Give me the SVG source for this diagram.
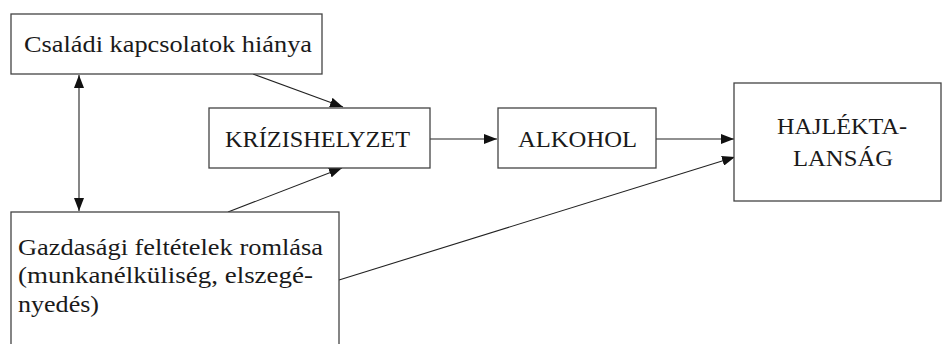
<svg xmlns="http://www.w3.org/2000/svg" width="942" height="344" viewBox="0 0 942 344">
<style>
.box{fill:#fff;stroke:#444;stroke-width:1.3}
.t{font-family:"Liberation Serif","DejaVu Serif",serif;font-size:23px;fill:#1a1a1a}
.c{stroke:#222;stroke-width:1.1;fill:none}
</style>
<defs>
<marker id="ah" viewBox="0 0 13 10" refX="13" refY="5" markerWidth="13" markerHeight="10" markerUnits="userSpaceOnUse" orient="auto-start-reverse">
<path d="M0,0 L13,5 L0,10 Z" fill="#111"/>
</marker>
</defs>
<rect width="942" height="344" fill="#fff"/>
<g id="connectors">
<line class="c" x1="79" y1="75" x2="79" y2="211" marker-start="url(#ah)" marker-end="url(#ah)"/>
<line class="c" x1="253" y1="74" x2="343" y2="107" marker-end="url(#ah)"/>
<line class="c" x1="228" y1="212" x2="342" y2="168" marker-end="url(#ah)"/>
<line class="c" x1="430" y1="139" x2="497" y2="139" marker-end="url(#ah)"/>
<line class="c" x1="656" y1="139" x2="734" y2="139" marker-end="url(#ah)"/>
<line class="c" x1="339" y1="280" x2="735" y2="157" marker-end="url(#ah)"/>
</g>
<g id="csaladi">
<rect class="box" x="11" y="14" width="311" height="60"/>
<text class="t" x="24" y="52" textLength="288" lengthAdjust="spacingAndGlyphs">Családi kapcsolatok hiánya</text>
</g>
<g id="krizis">
<rect class="box" x="209" y="108" width="221" height="60"/>
<text class="t" x="225" y="147" textLength="185" lengthAdjust="spacingAndGlyphs">KRÍZISHELYZET</text>
</g>
<g id="alkohol">
<rect class="box" x="498" y="108" width="158" height="60"/>
<text class="t" x="518" y="147" textLength="119" lengthAdjust="spacingAndGlyphs">ALKOHOL</text>
</g>
<g id="hajlektalansag">
<rect class="box" x="734" y="83" width="207" height="118"/>
<text class="t" x="777" y="134" textLength="130" lengthAdjust="spacingAndGlyphs">HAJLÉKTA-</text>
<text class="t" x="793" y="166" textLength="100" lengthAdjust="spacingAndGlyphs">LANSÁG</text>
</g>
<g id="gazdasagi">
<rect class="box" x="11" y="212" width="328" height="140"/>
<text class="t" x="18" y="255" textLength="305" lengthAdjust="spacingAndGlyphs">Gazdasági feltételek romlása</text>
<text class="t" x="18" y="283" textLength="295" lengthAdjust="spacingAndGlyphs">(munkanélküliség, elszegé-</text>
<text class="t" x="18" y="312" textLength="81" lengthAdjust="spacingAndGlyphs">nyedés)</text>
</g>
</svg>
